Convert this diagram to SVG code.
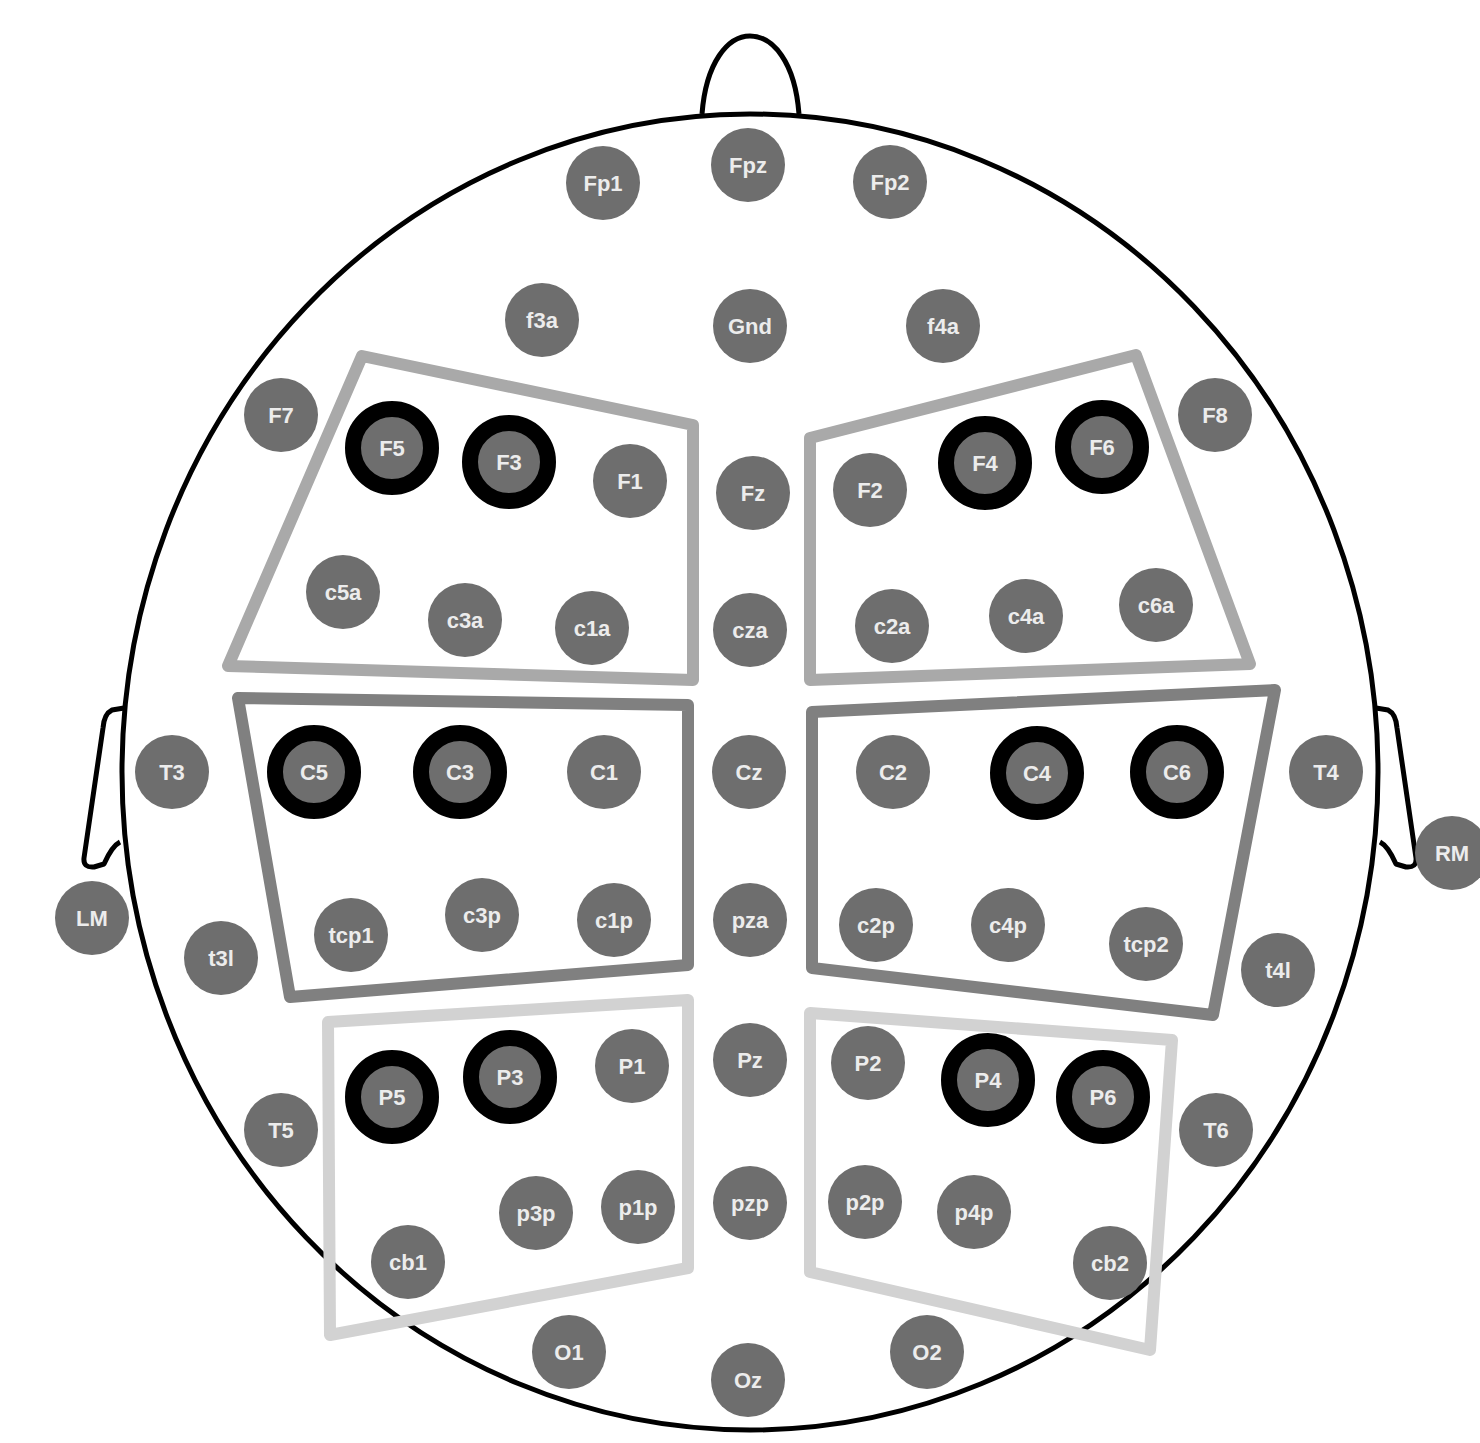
<svg xmlns="http://www.w3.org/2000/svg" width="1480" height="1443" viewBox="0 0 1480 1443">
<style>
.head{fill:none;stroke:#000;stroke-width:5;stroke-linejoin:round}
.box{fill:none;stroke-width:12;stroke-linejoin:round}
.b1{stroke:#a9a9a9}.b2{stroke:#808080}.b3{stroke:#d2d2d2}
.n{fill:#6e6e6e}
.r{fill:#6e6e6e;stroke:#000;stroke-width:16}
.t{font-family:"Liberation Sans",Arial,sans-serif;font-weight:bold;font-size:22px;fill:#ececec;text-anchor:middle;dominant-baseline:central}
</style>
<rect width="1480" height="1443" fill="#fff"/>
<g id="head">
<ellipse class="head" cx="750" cy="772" rx="628" ry="658"/>
<path class="head" d="M702 114 C706 62 728 36 750 36 C773 36 795 62 799 114"/>
<path class="head" d="M124 708 L112 710 Q104 714 103 728 L84 858 Q83 868 94 867 L104 864 Q112 846 120 842"/>
<path class="head" d="M1376 708 L1388 710 Q1396 714 1397 728 L1416 858 Q1417 868 1406 867 L1396 864 Q1388 846 1380 842"/>
</g>
<g id="regions">
<polygon class="box b1" points="362,356 693,425 693,680 228,666"/>
<polygon class="box b1" points="1136,355 810,438 810,680 1250,664"/>
<polygon class="box b2" points="238,698 688,705 688,965 290,997"/>
<polygon class="box b2" points="812,712 1275,690 1213,1015 812,968"/>
<polygon class="box b3" points="328,1022 688,1000 688,1268 330,1335"/>
<polygon class="box b3" points="810,1013 1172,1040 1150,1350 810,1272"/>
</g>
<g id="connectors"></g>
<g id="n-Fp1"><circle class="n" cx="603" cy="183" r="37"/><text class="t" x="603" y="183">Fp1</text></g>
<g id="n-Fpz"><circle class="n" cx="748" cy="165" r="37"/><text class="t" x="748" y="165">Fpz</text></g>
<g id="n-Fp2"><circle class="n" cx="890" cy="182" r="37"/><text class="t" x="890" y="182">Fp2</text></g>
<g id="n-f3a"><circle class="n" cx="542" cy="320" r="37"/><text class="t" x="542" y="320">f3a</text></g>
<g id="n-Gnd"><circle class="n" cx="750" cy="326" r="37"/><text class="t" x="750" y="326">Gnd</text></g>
<g id="n-f4a"><circle class="n" cx="943" cy="326" r="37"/><text class="t" x="943" y="326">f4a</text></g>
<g id="n-F7"><circle class="n" cx="281" cy="415" r="37"/><text class="t" x="281" y="415">F7</text></g>
<g id="n-F8"><circle class="n" cx="1215" cy="415" r="37"/><text class="t" x="1215" y="415">F8</text></g>
<g id="n-F5"><circle class="r" cx="392" cy="448" r="39"/><text class="t" x="392" y="448">F5</text></g>
<g id="n-F3"><circle class="r" cx="509" cy="462" r="39"/><text class="t" x="509" y="462">F3</text></g>
<g id="n-F1"><circle class="n" cx="630" cy="481" r="37"/><text class="t" x="630" y="481">F1</text></g>
<g id="n-Fz"><circle class="n" cx="753" cy="493" r="37"/><text class="t" x="753" y="493">Fz</text></g>
<g id="n-F2"><circle class="n" cx="870" cy="490" r="37"/><text class="t" x="870" y="490">F2</text></g>
<g id="n-F4"><circle class="r" cx="985" cy="463" r="39"/><text class="t" x="985" y="463">F4</text></g>
<g id="n-F6"><circle class="r" cx="1102" cy="447" r="39"/><text class="t" x="1102" y="447">F6</text></g>
<g id="n-c5a"><circle class="n" cx="343" cy="592" r="37"/><text class="t" x="343" y="592">c5a</text></g>
<g id="n-c3a"><circle class="n" cx="465" cy="620" r="37"/><text class="t" x="465" y="620">c3a</text></g>
<g id="n-c1a"><circle class="n" cx="592" cy="628" r="37"/><text class="t" x="592" y="628">c1a</text></g>
<g id="n-cza"><circle class="n" cx="750" cy="630" r="37"/><text class="t" x="750" y="630">cza</text></g>
<g id="n-c2a"><circle class="n" cx="892" cy="626" r="37"/><text class="t" x="892" y="626">c2a</text></g>
<g id="n-c4a"><circle class="n" cx="1026" cy="616" r="37"/><text class="t" x="1026" y="616">c4a</text></g>
<g id="n-c6a"><circle class="n" cx="1156" cy="605" r="37"/><text class="t" x="1156" y="605">c6a</text></g>
<g id="n-T3"><circle class="n" cx="172" cy="772" r="37"/><text class="t" x="172" y="772">T3</text></g>
<g id="n-C5"><circle class="r" cx="314" cy="772" r="39"/><text class="t" x="314" y="772">C5</text></g>
<g id="n-C3"><circle class="r" cx="460" cy="772" r="39"/><text class="t" x="460" y="772">C3</text></g>
<g id="n-C1"><circle class="n" cx="604" cy="772" r="37"/><text class="t" x="604" y="772">C1</text></g>
<g id="n-Cz"><circle class="n" cx="749" cy="772" r="37"/><text class="t" x="749" y="772">Cz</text></g>
<g id="n-C2"><circle class="n" cx="893" cy="772" r="37"/><text class="t" x="893" y="772">C2</text></g>
<g id="n-C4"><circle class="r" cx="1037" cy="773" r="39"/><text class="t" x="1037" y="773">C4</text></g>
<g id="n-C6"><circle class="r" cx="1177" cy="772" r="39"/><text class="t" x="1177" y="772">C6</text></g>
<g id="n-T4"><circle class="n" cx="1326" cy="772" r="37"/><text class="t" x="1326" y="772">T4</text></g>
<g id="n-RM"><circle class="n" cx="1452" cy="853" r="37"/><text class="t" x="1452" y="853">RM</text></g>
<g id="n-LM"><circle class="n" cx="92" cy="918" r="37"/><text class="t" x="92" y="918">LM</text></g>
<g id="n-t3l"><circle class="n" cx="221" cy="958" r="37"/><text class="t" x="221" y="958">t3l</text></g>
<g id="n-tcp1"><circle class="n" cx="351" cy="935" r="37"/><text class="t" x="351" y="935">tcp1</text></g>
<g id="n-c3p"><circle class="n" cx="482" cy="915" r="37"/><text class="t" x="482" y="915">c3p</text></g>
<g id="n-c1p"><circle class="n" cx="614" cy="920" r="37"/><text class="t" x="614" y="920">c1p</text></g>
<g id="n-pza"><circle class="n" cx="750" cy="920" r="37"/><text class="t" x="750" y="920">pza</text></g>
<g id="n-c2p"><circle class="n" cx="876" cy="925" r="37"/><text class="t" x="876" y="925">c2p</text></g>
<g id="n-c4p"><circle class="n" cx="1008" cy="925" r="37"/><text class="t" x="1008" y="925">c4p</text></g>
<g id="n-tcp2"><circle class="n" cx="1146" cy="944" r="37"/><text class="t" x="1146" y="944">tcp2</text></g>
<g id="n-t4l"><circle class="n" cx="1278" cy="970" r="37"/><text class="t" x="1278" y="970">t4l</text></g>
<g id="n-P5"><circle class="r" cx="392" cy="1097" r="39"/><text class="t" x="392" y="1097">P5</text></g>
<g id="n-P3"><circle class="r" cx="510" cy="1077" r="39"/><text class="t" x="510" y="1077">P3</text></g>
<g id="n-P1"><circle class="n" cx="632" cy="1066" r="37"/><text class="t" x="632" y="1066">P1</text></g>
<g id="n-Pz"><circle class="n" cx="750" cy="1060" r="37"/><text class="t" x="750" y="1060">Pz</text></g>
<g id="n-P2"><circle class="n" cx="868" cy="1063" r="37"/><text class="t" x="868" y="1063">P2</text></g>
<g id="n-P4"><circle class="r" cx="988" cy="1080" r="39"/><text class="t" x="988" y="1080">P4</text></g>
<g id="n-P6"><circle class="r" cx="1103" cy="1097" r="39"/><text class="t" x="1103" y="1097">P6</text></g>
<g id="n-T5"><circle class="n" cx="281" cy="1130" r="37"/><text class="t" x="281" y="1130">T5</text></g>
<g id="n-T6"><circle class="n" cx="1216" cy="1130" r="37"/><text class="t" x="1216" y="1130">T6</text></g>
<g id="n-p3p"><circle class="n" cx="536" cy="1213" r="37"/><text class="t" x="536" y="1213">p3p</text></g>
<g id="n-p1p"><circle class="n" cx="638" cy="1207" r="37"/><text class="t" x="638" y="1207">p1p</text></g>
<g id="n-pzp"><circle class="n" cx="750" cy="1203" r="37"/><text class="t" x="750" y="1203">pzp</text></g>
<g id="n-p2p"><circle class="n" cx="865" cy="1202" r="37"/><text class="t" x="865" y="1202">p2p</text></g>
<g id="n-p4p"><circle class="n" cx="974" cy="1212" r="37"/><text class="t" x="974" y="1212">p4p</text></g>
<g id="n-cb1"><circle class="n" cx="408" cy="1262" r="37"/><text class="t" x="408" y="1262">cb1</text></g>
<g id="n-cb2"><circle class="n" cx="1110" cy="1263" r="37"/><text class="t" x="1110" y="1263">cb2</text></g>
<g id="n-O1"><circle class="n" cx="569" cy="1352" r="37"/><text class="t" x="569" y="1352">O1</text></g>
<g id="n-Oz"><circle class="n" cx="748" cy="1380" r="37"/><text class="t" x="748" y="1380">Oz</text></g>
<g id="n-O2"><circle class="n" cx="927" cy="1352" r="37"/><text class="t" x="927" y="1352">O2</text></g>
</svg>
